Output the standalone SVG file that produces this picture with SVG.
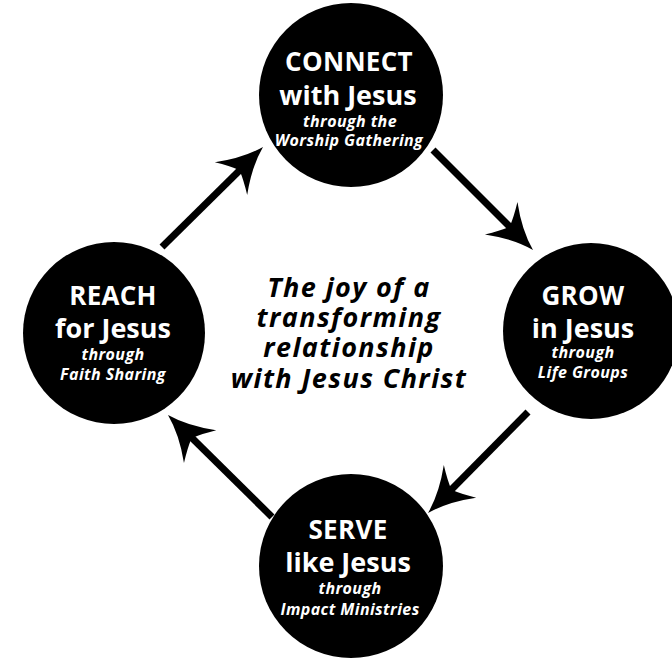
<svg xmlns="http://www.w3.org/2000/svg" width="672" height="659" viewBox="0 0 672 659">
<style>
.c{fill:#000}
.t{fill:#fff;font-family:"Open Sans","Noto Sans",sans-serif;text-anchor:middle;font-weight:bold}
.h{font-size:26px;letter-spacing:0.3px}
.s{font-size:27px}
.i{font-size:16px;font-style:italic;letter-spacing:0.4px}
.m{fill:#000;font-family:"Open Sans","Noto Sans",sans-serif;text-anchor:middle;font-weight:bold;font-style:italic;font-size:27px;letter-spacing:1.4px}
.ln{stroke:#000;stroke-width:7;fill:none}
</style>
<defs>
<path id="head" d="M0,0 Q-22,-6 -45,-23 Q-37,-10 -33,0 Q-37,10 -45,23 Q-22,6 0,0 Z" fill="#000"/>
</defs>
<rect width="672" height="659" fill="#fff"/>
<g id="connectors">
<line class="ln" x1="162" y1="247" x2="240" y2="170"/>
<use href="#head" transform="translate(263,147) rotate(-44.7)"/>
<line class="ln" x1="433" y1="150" x2="511" y2="228"/>
<use href="#head" transform="translate(533,250) rotate(45)"/>
<line class="ln" x1="528" y1="412" x2="450" y2="491"/>
<use href="#head" transform="translate(428,513) rotate(135.3)"/>
<line class="ln" x1="272" y1="517" x2="191" y2="437"/>
<use href="#head" transform="translate(168,415) rotate(-135.5)"/>
</g>
<g id="connect">
<circle class="c" cx="351" cy="95" r="92"/>
<text class="t h" x="349" y="71">CONNECT</text>
<text class="t s" x="348" y="105">with Jesus</text>
<text class="t i" x="350" y="127">through the</text>
<text class="t i" x="349" y="146">Worship Gathering</text>
</g>
<g id="grow">
<circle class="c" cx="591" cy="331" r="88"/>
<text class="t h" x="583" y="305">GROW</text>
<text class="t s" x="583" y="338">in Jesus</text>
<text class="t i" x="583" y="358">through</text>
<text class="t i" x="583" y="378">Life Groups</text>
</g>
<g id="serve">
<circle class="c" cx="351" cy="566" r="92"/>
<text class="t h" x="348" y="539">SERVE</text>
<text class="t s" x="348" y="572">like Jesus</text>
<text class="t i" x="350" y="594">through</text>
<text class="t i" x="350" y="615">Impact Ministries</text>
</g>
<g id="reach">
<circle class="c" cx="114" cy="333" r="91"/>
<text class="t h" x="113" y="305">REACH</text>
<text class="t s" x="113" y="338">for Jesus</text>
<text class="t i" x="113" y="360">through</text>
<text class="t i" x="113" y="380">Faith Sharing</text>
</g>
<g id="center">
<text class="m" x="349" y="297">The joy of a</text>
<text class="m" x="349" y="327">transforming</text>
<text class="m" x="349" y="357">relationship</text>
<text class="m" x="349" y="388">with Jesus Christ</text>
</g>
</svg>
